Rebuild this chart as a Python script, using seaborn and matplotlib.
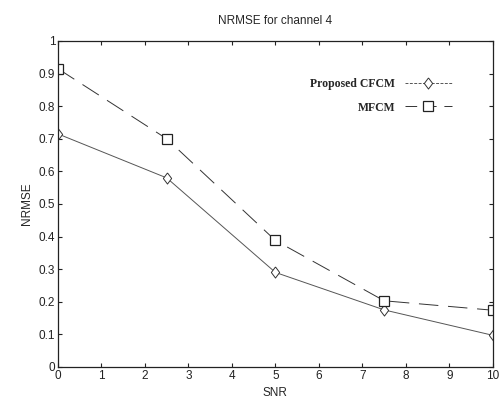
import matplotlib
matplotlib.use("Agg")
import matplotlib.pyplot as plt
import seaborn as sns
import pandas as pd

snr = [0, 2.5, 5, 7.5, 10]
cfcm = [0.715, 0.58, 0.29, 0.175, 0.097]
mfcm = [0.915, 0.70, 0.388, 0.203, 0.174]
xticks = list(range(0, 11))
yticks = [0, 0.1, 0.2, 0.3, 0.4, 0.5, 0.6, 0.7, 0.8, 0.9, 1]
ytick_labels = ["0", "0.1", "0.2", "0.3", "0.4", "0.5", "0.6", "0.7", "0.8", "0.9", "1"]

sns.set_theme(style="ticks")
plt.rcParams['font.family'] = ['Liberation Sans', 'DejaVu Sans']

df = pd.DataFrame({"SNR": snr * 2,
                   "NRMSE": cfcm + mfcm,
                   "method": ["Proposed CFCM"] * 5 + ["MFCM"] * 5})

diamond = [(0, 1), (0.75, 0), (0, -1), (-0.75, 0), (0, 1)]

fig = plt.figure(figsize=(5.04, 3.98), dpi=100)
ax = fig.add_axes([0.115, 0.078, 0.863, 0.819])

sns.lineplot(data=df[df.method == "Proposed CFCM"], x="SNR", y="NRMSE", ax=ax,
             color="#555555", linewidth=0.7, marker=diamond, markersize=8,
             markerfacecolor="white", markeredgecolor="#333333", markeredgewidth=0.7,
             label="Proposed CFCM")
sns.lineplot(data=df[df.method == "MFCM"], x="SNR", y="NRMSE", ax=ax,
             color="#333333", linewidth=0.7, marker="s", markersize=6.5,
             markerfacecolor="white", markeredgecolor="#222222", markeredgewidth=0.9,
             dashes=False, linestyle=(0, (20, 10)), label="MFCM")

ax.set_xlim(0, 10)
ax.set_ylim(0, 1)
ax.set_xticks(xticks)
ax.set_xticklabels([str(t) for t in xticks])
ax.set_yticks(yticks)
ax.set_yticklabels(ytick_labels)
ax.tick_params(direction="in", top=True, right=True, labelsize=8.5, length=3,
               width=0.8, colors="#222222", pad=2)
for s in ax.spines.values():
    s.set_linewidth(0.9)
    s.set_color("#222222")
ax.set_xlabel("SNR", fontsize=8.5, labelpad=-1)
ax.xaxis.set_label_coords(0.5, -0.06)
ax.set_ylabel("NRMSE", fontsize=8.5, labelpad=4)
ax.set_title("NRMSE for channel 4", fontsize=8.5, pad=12)

leg = ax.legend(loc="upper right", bbox_to_anchor=(0.93, 0.92), frameon=False,
                markerfirst=False, handlelength=4, labelspacing=1.0,
                prop={"family": "Liberation Serif", "weight": "bold", "size": 8.5})
hl = leg.get_lines()
hl[0].set_linestyle((0, (3, 1.5)))
hl[1].set_linestyle((0, (12, 8)))

fig.savefig("out.png", dpi=100)
